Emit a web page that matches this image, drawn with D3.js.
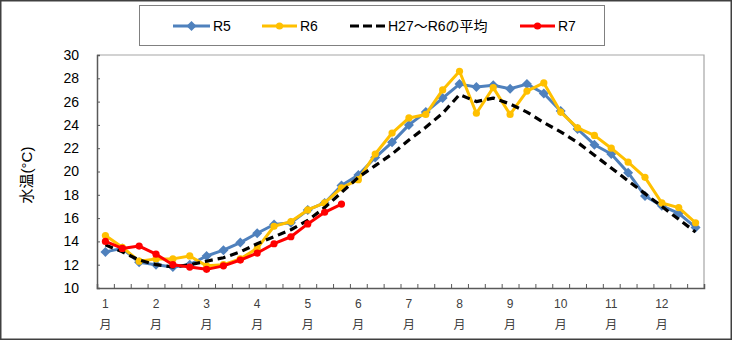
<!DOCTYPE html>
<html><head><meta charset="utf-8">
<script src="https://cdn.jsdelivr.net/npm/d3@7"></script>
<style>
html,body{margin:0;padding:0;background:#fff;}
svg{display:block;font-family:"Liberation Sans","Noto Sans CJK JP",sans-serif;}
</style></head>
<body><svg id="c" width="732" height="340"></svg>
<script>
const months = ["1","2","3","4","5","6","7","8","9","10","11","12"];
const periods = ["上旬","中旬","下旬"];
const categories = months.flatMap(m => periods.map(p => m + "月" + p));
const yTicks = [10,12,14,16,18,20,22,24,26,28,30];

const r5 = [13.1,13.4,12.2,12.0,11.8,12.0,12.75,13.25,13.9,14.7,15.45,15.6,16.7,17.3,18.8,19.7,21.2,22.5,24.0,25.1,26.3,27.5,27.25,27.4,27.1,27.5,26.7,25.2,23.65,22.3,21.5,19.9,17.9,17.05,16.4,15.2];
const r6 = [14.5,13.5,12.3,12.5,12.5,12.75,11.9,12.0,12.5,13.4,15.3,15.7,16.7,17.3,18.6,19.3,21.5,23.3,24.6,24.9,27.0,28.6,25.0,27.2,24.9,26.9,27.6,25.1,23.75,23.1,22.0,20.8,19.5,17.3,16.9,15.6];
const avg = [13.7,13.1,12.4,12.0,11.8,12.0,12.3,12.6,13.1,13.8,14.4,15.0,15.8,16.9,18.2,19.5,20.5,21.5,22.7,23.8,25.0,26.6,26.0,26.3,25.8,25.1,24.2,23.4,22.5,21.4,20.3,19.2,18.1,17.0,15.9,14.8];
const r7 = [14.0,13.4,13.6,12.9,12.0,11.8,11.6,11.9,12.4,13.0,13.8,14.4,15.5,16.5,17.2];

const series = [
  {name:"R5", values:r5, color:"#4F81BD", marker:"diamond", dash:null},
  {name:"R6", values:r6, color:"#FFC000", marker:"circle", dash:null},
  {name:"H27～R6の平均", values:avg, color:"#000000", marker:null, dash:"8,5"},
  {name:"R7", values:r7, color:"#FF0000", marker:"circle", dash:null}
];

const svg = d3.select("#c");
const L = 97, R = 704, T = 55, B = 288;

// outer frame
svg.append("rect").attr("x",0.75).attr("y",0.75).attr("width",730.5).attr("height",338.5)
  .attr("fill","#fff").attr("stroke","#404040").attr("stroke-width",1.5);

const x = d3.scaleBand().domain(categories).range([L,R]).padding(0);
const xb = d3.scaleLinear().domain([0,categories.length]).range([L,R]);
const y = d3.scaleLinear().domain([10,30]).range([B,T]);
const cx = c => x(c) + x.bandwidth()/2;

// plot border (top/right)
svg.append("path").attr("d",`M${L},${T}H${R}V${B}`).attr("fill","none")
  .attr("stroke","#a6a6a6").attr("stroke-width",1.2);

// y axis
const gy = svg.append("g").attr("transform",`translate(${L},0)`)
  .call(d3.axisLeft(y).tickValues(yTicks).tickSize(-3).tickPadding(18).tickFormat(d3.format("d")));
gy.select(".domain").attr("stroke","#595959").attr("stroke-width",1.5);
gy.selectAll(".tick line").attr("stroke","#595959");
gy.selectAll(".tick text").attr("font-size",14).attr("fill","#000").attr("x",-18);

// x axis ticks at boundaries
const gx = svg.append("g").attr("transform",`translate(0,${B})`)
  .call(d3.axisBottom(xb).tickValues(d3.range(0,categories.length+1)).tickSize(-4).tickFormat(""));
gx.select(".domain").attr("stroke","#595959").attr("stroke-width",1.5);
gx.selectAll(".tick line").attr("stroke","#595959");

// x labels
const labelCats = categories.filter((c,i)=> i%3===0);
const xl = svg.append("g").attr("font-size",12).attr("fill","#404040").attr("text-anchor","middle");
labelCats.forEach((c,k)=>{
  const t = xl.append("text").attr("x",cx(c)).attr("y",308);
  t.append("tspan").attr("x",cx(c)).attr("dy",0).text(months[k]);
  t.append("tspan").attr("x",cx(c)).attr("dy",21).text("月");
});

// y title
svg.append("text").attr("transform","translate(32,175) rotate(-90)")
  .attr("text-anchor","middle").attr("font-size",15).attr("fill","#000").text("水温(°C)");

// series
const line = d3.line().x((d,i)=>cx(categories[i])).y(d=>y(d));
series.forEach(s=>{
  const g = svg.append("g");
  g.append("path").datum(s.values).attr("d",line).attr("fill","none")
    .attr("stroke",s.color).attr("stroke-width",s.dash?3.2:3)
    .attr("stroke-dasharray",s.dash).attr("stroke-linejoin","round");
  if(s.marker==="circle"){
    g.selectAll("circle").data(s.values).join("circle")
      .attr("cx",(d,i)=>cx(categories[i])).attr("cy",d=>y(d)).attr("r",3.6).attr("fill",s.color);
  } else if(s.marker==="diamond"){
    g.selectAll("path.m").data(s.values).join("path").attr("class","m")
      .attr("d",d3.symbol(d3.symbolDiamond2? d3.symbolSquare : d3.symbolSquare, 50))
      .attr("transform",(d,i)=>`translate(${cx(categories[i])},${y(d)}) rotate(45)`)
      .attr("fill",s.color);
  }
});

// legend
const lg = svg.append("g");
lg.append("rect").attr("x",139.5).attr("y",5.5).attr("width",465).attr("height",40)
  .attr("fill","#fff").attr("stroke","#808080").attr("stroke-width",1);
const legPos = [{x1:173,x2:210,tx:213},{x1:262,x2:297,tx:300},{x1:350,x2:385,tx:388},{x1:520,x2:555,tx:558}];
series.forEach((s,i)=>{
  const p = legPos[i], ly = 26;
  lg.append("line").attr("x1",p.x1).attr("x2",p.x2).attr("y1",ly).attr("y2",ly)
    .attr("stroke",s.color).attr("stroke-width",s.dash?3.2:3).attr("stroke-dasharray",s.dash?"9,4":null);
  const mx = (p.x1+p.x2)/2;
  if(s.marker==="circle") lg.append("circle").attr("cx",mx).attr("cy",ly).attr("r",3.6).attr("fill",s.color);
  if(s.marker==="diamond") lg.append("path").attr("d",d3.symbol(d3.symbolSquare,50))
    .attr("transform",`translate(${mx},${ly}) rotate(45)`).attr("fill",s.color);
  lg.append("text").attr("x",p.tx).attr("y",ly+5).attr("font-size",14).attr("fill","#000").text(s.name);
});
</script></body></html>
